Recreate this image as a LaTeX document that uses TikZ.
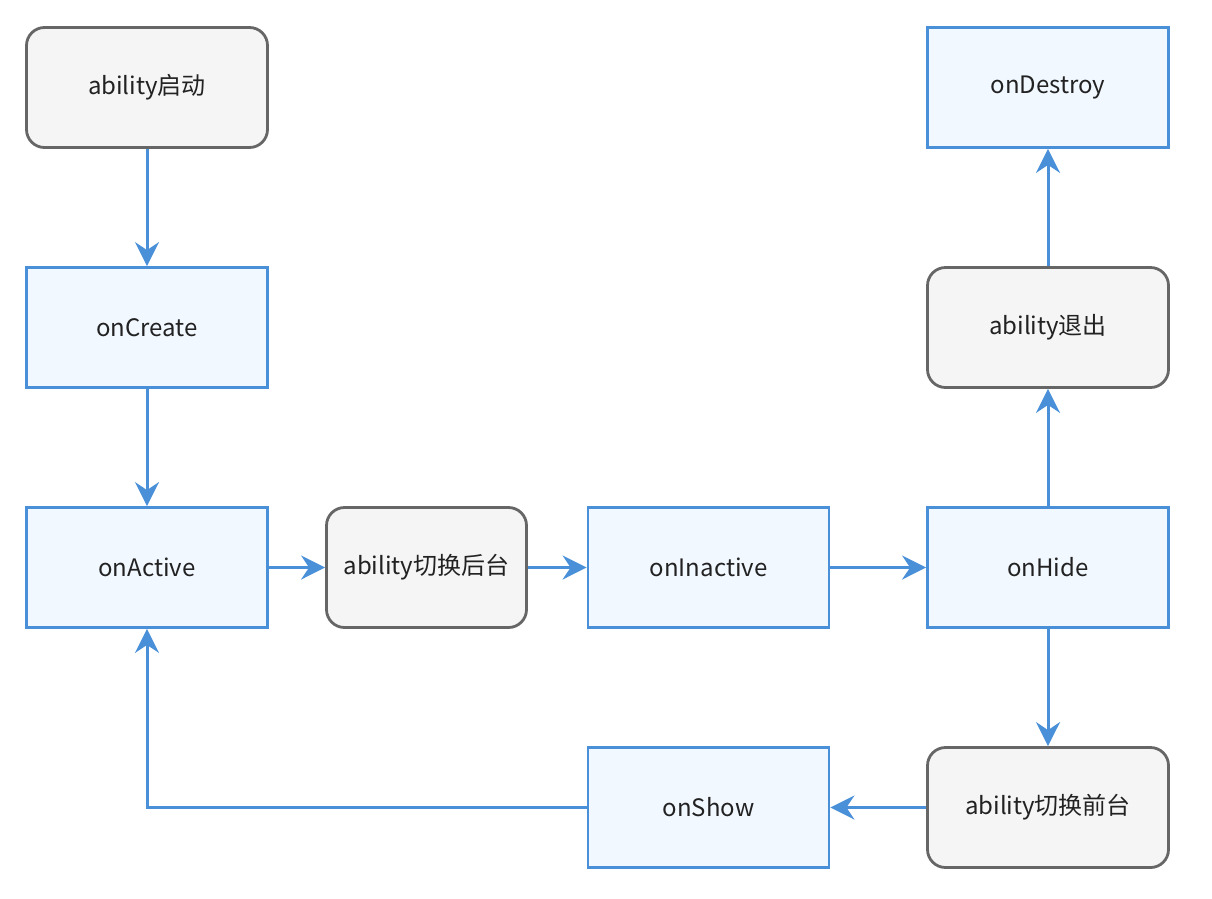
\documentclass[tikz,border=0pt]{standalone}
\usepackage{fontspec}
\setmainfont{Noto Sans CJK SC}
\usetikzlibrary{arrows.meta}
\definecolor{bstroke}{HTML}{4A90D9}
\definecolor{bfill}{HTML}{F2F8FF}
\definecolor{gstroke}{HTML}{666666}
\definecolor{gfill}{HTML}{F5F5F5}
\definecolor{txt}{HTML}{222222}
\tikzset{
  base/.style={minimum width=241pt, minimum height=120pt, inner sep=0pt, line width=2.8pt, font=\fontsize{24pt}{28pt}\selectfont, text=txt},
  bluebox/.style={base, draw=bstroke, fill=bfill},
  graybox/.style={base, draw=gstroke, fill=gfill, rounded corners=18pt},
  conn/.style={draw=bstroke, line width=3pt, -{Stealth[length=24pt, width=24pt, inset=8pt]}}
}
\begin{document}
\begin{tikzpicture}[x=1pt, y=-1pt]
\useasboundingbox (0,0) rectangle (1212,898);
\node[graybox] (start) at (147,87.5) {ability启动};
\node[bluebox] (create) at (147,327.5) {onCreate};
\node[bluebox] (active) at (147,567.5) {onActive};
\node[graybox, minimum width=200pt] (bg) at (426.5,567.5) {ability切换后台};
\node[bluebox] (inactive) at (708.5,567.5) {onInactive};
\node[bluebox] (hide) at (1048,567.5) {onHide};
\node[graybox] (exit) at (1048,327.5) {ability退出};
\node[bluebox] (destroy) at (1048,87.5) {onDestroy};
\node[graybox] (fg) at (1048,807.5) {ability切换前台};
\node[bluebox] (show) at (708.5,807.5) {onShow};
\draw[conn] (start) -- (create);
\draw[conn] (create) -- (active);
\draw[conn] (active) -- (bg);
\draw[conn] (bg) -- (inactive);
\draw[conn] (inactive) -- (hide);
\draw[conn] (hide) -- (exit);
\draw[conn] (exit) -- (destroy);
\draw[conn] (hide) -- (fg);
\draw[conn] (fg) -- (show);
\draw[conn] (show.west) -| (active.south);
\end{tikzpicture}
\end{document}
